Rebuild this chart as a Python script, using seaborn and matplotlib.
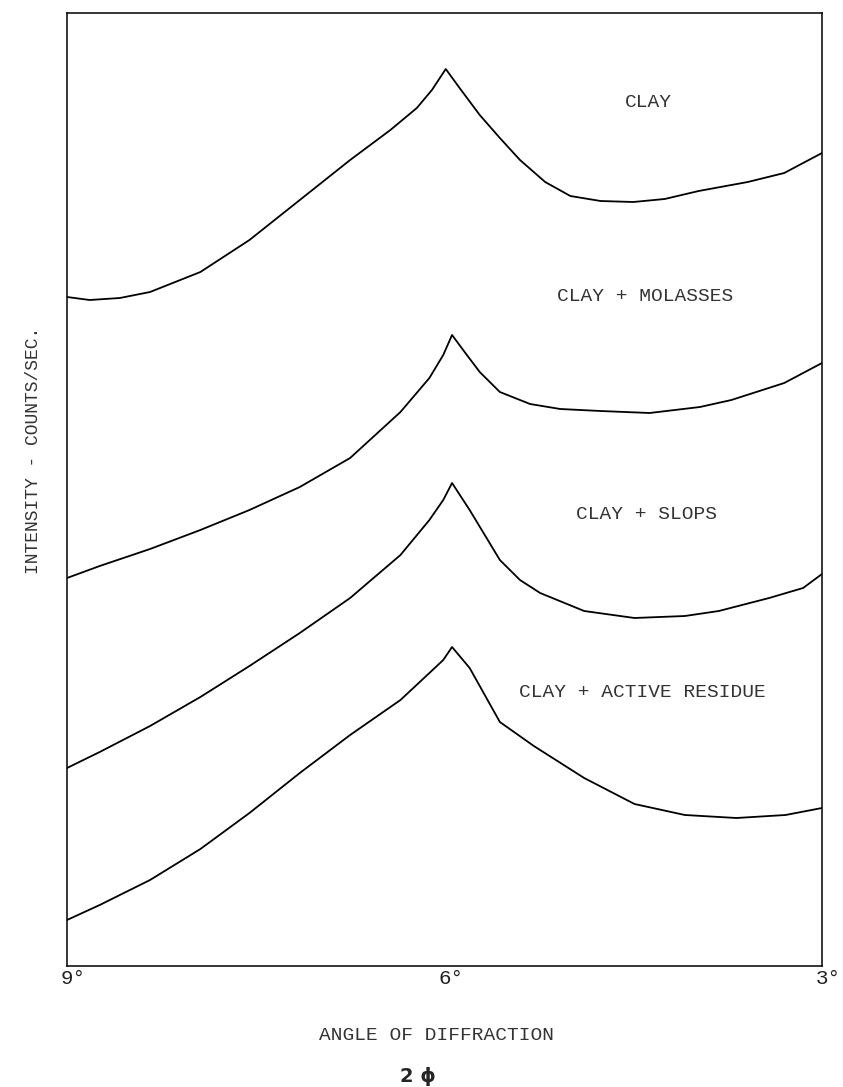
import matplotlib
matplotlib.use("Agg")
import matplotlib.pyplot as plt
from matplotlib.transforms import ScaledTranslation
import numpy as np
import pandas as pd
import seaborn as sns

# Diffraction traces, angle 2-phi in degrees vs. intensity (counts/sec, arbitrary scale)
clay_angle = [9.00, 8.82, 8.58, 8.34, 7.94, 7.55, 7.15, 6.75, 6.43, 6.22, 6.10, 5.99,
              5.88, 5.72, 5.56, 5.40, 5.20, 5.00, 4.76, 4.50, 4.25, 3.98, 3.59, 3.30, 3.00]
clay_int = [669, 666, 668, 674, 694, 726, 766, 806, 836, 858, 876, 897,
            878, 851, 828, 806, 784, 770, 765, 764, 767, 775, 784, 793, 813]

molasses_angle = [9.00, 8.74, 8.34, 7.94, 7.55, 7.15, 6.75, 6.35, 6.12, 6.01, 5.94,
                  5.84, 5.72, 5.56, 5.32, 5.08, 4.76, 4.37, 3.97, 3.72, 3.30, 3.00]
molasses_int = [388, 400, 417, 436, 456, 479, 508, 554, 588, 611, 631,
                614, 594, 574, 562, 557, 555, 553, 559, 566, 583, 603]

slops_angle = [9.00, 8.74, 8.34, 7.94, 7.55, 7.15, 6.75, 6.35, 6.12, 6.01, 5.94,
               5.80, 5.68, 5.56, 5.40, 5.24, 4.89, 4.49, 4.09, 3.82, 3.42, 3.15, 3.00]
slops_int = [198, 214, 240, 269, 300, 333, 368, 411, 446, 466, 483,
             456, 431, 406, 386, 373, 355, 348, 350, 355, 368, 378, 392]

residue_angle = [9.00, 8.74, 8.34, 7.94, 7.55, 7.15, 6.75, 6.35, 6.12, 6.01, 5.94,
                 5.80, 5.68, 5.56, 5.29, 4.89, 4.49, 4.09, 3.68, 3.29, 3.00]
residue_int = [46, 61, 86, 117, 153, 193, 231, 266, 293, 306, 319,
               298, 271, 244, 220, 188, 162, 151, 148, 151, 158]

sample_names = ["CLAY", "CLAY + MOLASSES", "CLAY + SLOPS", "CLAY + ACTIVE RESIDUE"]
tick_values = [9, 6, 3]
tick_labels = ["9°", "6°", "3°"]

frames = []
for name, ang, inten in zip(sample_names,
                            [clay_angle, molasses_angle, slops_angle, residue_angle],
                            [clay_int, molasses_int, slops_int, residue_int]):
    frames.append(pd.DataFrame({"angle": ang, "intensity": inten, "sample": name}))
df = pd.concat(frames, ignore_index=True)

sns.set_style("white")
plt.rcParams["font.family"] = ["Liberation Mono", "DejaVu Sans"]

W, H = 843, 1087
fig = plt.figure(figsize=(W / 100, H / 100), dpi=100)
ax = fig.add_axes([67 / W, 121 / H, 755 / W, 953 / H])

sns.lineplot(data=df, x="angle", y="intensity", units="sample", estimator=None,
             color="black", linewidth=1.3, legend=False, ax=ax)

ax.set_xlim(9, 3)
ax.set_ylim(0, 953)
ax.set_yticks([])

ax.set_xticks(tick_values)
ax.set_xticklabels(tick_labels)
ax.tick_params(axis="x", which="major", length=0, pad=2, labelsize=15, labelcolor="#222222")
ax.set_xticks([6], minor=True)
ax.tick_params(axis="x", which="minor", direction="inout", length=18, width=1.0, color="#333333")
shift = ScaledTranslation(-6 / 100, 0, fig.dpi_scale_trans)
for lab in ax.get_xticklabels():
    lab.set_ha("left")
    lab.set_transform(lab.get_transform() + shift)

for s in ax.spines.values():
    s.set_visible(True)
    s.set_color("black")
    s.set_linewidth(1.1)

ax.set_xlabel("ANGLE OF DIFFRACTION", fontsize=14, color="#333333")
ax.xaxis.set_label_coords(0.49, -0.064)
ax.set_ylabel("INTENSITY - COUNTS/SEC.", fontsize=13, color="#333333")
ax.yaxis.set_label_coords(-0.033, 0.541)

fig.text(418 / W, 1 - 1077 / H, "2 ϕ", family="DejaVu Sans", fontsize=14,
         fontweight="bold", ha="center", va="center")

# sample labels beside each trace
label_pos = [(0.7695, 0.9056), (0.7656, 0.702), (0.7682, 0.4733), (0.7616, 0.2865)]
for name, (lx, ly) in zip(sample_names, label_pos):
    ax.text(lx, ly, name, transform=ax.transAxes, ha="center", va="center",
            fontsize=14, color="#333333")

fig.savefig("out.png", dpi=100)
